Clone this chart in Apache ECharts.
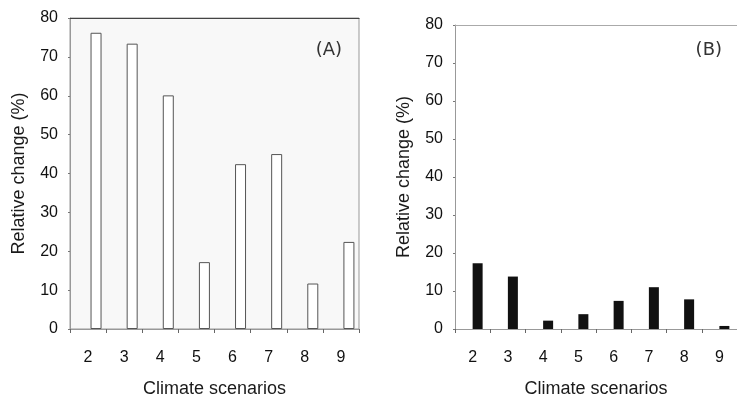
<!DOCTYPE html>
<html>
<head>
<meta charset="utf-8">
<script src="https://cdn.jsdelivr.net/npm/echarts@6/dist/echarts.min.js"></script>
<style>
  html, body { margin: 0; padding: 0; background: #fff; }
  #chart { width: 737px; height: 395px; }
</style>
</head>
<body>
<div id="chart"></div>
<script>
// climate scenarios on the x axis
const scenarios = ["2", "3", "4", "5", "6", "7", "8", "9"];
// panel (A) relative change, %
const changeA = [76.2, 73.4, 60.1, 17.2, 42.4, 45.0, 11.7, 22.4];
// panel (B) relative change, %
const changeB = [17.3, 13.8, 2.2, 3.9, 7.4, 11.0, 7.8, 0.8];
// near-zero companion bars that sit beside the main bars
const companion = [0, 0, 0, 0, 0, 0, 0, 0];
const yTicks = [0, 10, 20, 30, 40, 50, 60, 70, 80];

const font = "Liberation Sans";

function yAxis(idx) {
  return {
    gridIndex: idx,
    type: "value",
    min: yTicks[0],
    max: yTicks[yTicks.length - 1],
    interval: 10,
    name: "Relative change (%)",
    nameLocation: "middle",
    nameGap: 42,
    nameTextStyle: { fontFamily: font, fontSize: 18, color: "#1a1a1a" },
    axisLine: { show: true, lineStyle: { color: "#999", width: 1 } },
    axisTick: { show: true, length: 2, lineStyle: { color: "#777" } },
    axisLabel: { fontFamily: font, fontSize: 16, color: "#111", margin: 12 },
    splitLine: { show: false },
  };
}

function xAxis(idx) {
  return {
    gridIndex: idx,
    type: "category",
    data: scenarios,
    name: "Climate scenarios",
    nameLocation: "middle",
    nameGap: 51,
    nameTextStyle: { fontFamily: font, fontSize: 18, color: "#1a1a1a" },
    axisLine: { show: true, lineStyle: { color: "#999", width: 1 } },
    axisTick: { show: true, length: 4, lineStyle: { color: "#666" } },
    axisLabel: { fontFamily: font, fontSize: 16, color: "#111", margin: 21 },
  };
}

function topLine(idx, color) {
  return {
    gridIndex: idx,
    type: "category",
    data: scenarios,
    position: "top",
    axisLine: { show: true, lineStyle: { color: color, width: 1.2 } },
    axisTick: { show: false },
    axisLabel: { show: false },
  };
}

let chart = echarts.init(document.getElementById("chart"));
chart.setOption({
  animation: false,
  grid: [
    {
      left: 70, right: 378, top: 18, bottom: 66, outerBoundsMode: "none",
      show: true, backgroundColor: "#f8f8f8", borderColor: "#999", borderWidth: 1,
    },
    { left: 455, right: 0, top: 25, bottom: 66, outerBoundsMode: "none" },
  ],
  xAxis: [xAxis(0), xAxis(1), topLine(0, "#444"), topLine(1, "#aaa")],
  yAxis: [yAxis(0), yAxis(1)],
  title: [
    {
      text: "(A)", right: 390, top: 36,
      textStyle: { fontFamily: "DejaVu Sans", fontWeight: "normal", fontSize: 18, color: "#333" },
    },
    {
      text: "(B)", right: 10, top: 36,
      textStyle: { fontFamily: "DejaVu Sans", fontWeight: "normal", fontSize: 18, color: "#333" },
    },
  ],
  series: [
    {
      type: "bar", xAxisIndex: 0, yAxisIndex: 0,
      data: companion, barWidth: 11, barGap: "45%",
      itemStyle: { color: "transparent" },
    },
    {
      type: "bar", xAxisIndex: 0, yAxisIndex: 0,
      data: changeA, barWidth: 11,
      itemStyle: { color: "#ffffff", borderColor: "#555", borderWidth: 1 },
    },
    {
      type: "bar", xAxisIndex: 1, yAxisIndex: 1,
      data: companion, barWidth: 10, barGap: "0%",
      itemStyle: { color: "transparent" },
    },
    {
      type: "bar", xAxisIndex: 1, yAxisIndex: 1,
      data: changeB, barWidth: 10,
      itemStyle: { color: "#111" },
    },
  ],
});
</script>
</body>
</html>
